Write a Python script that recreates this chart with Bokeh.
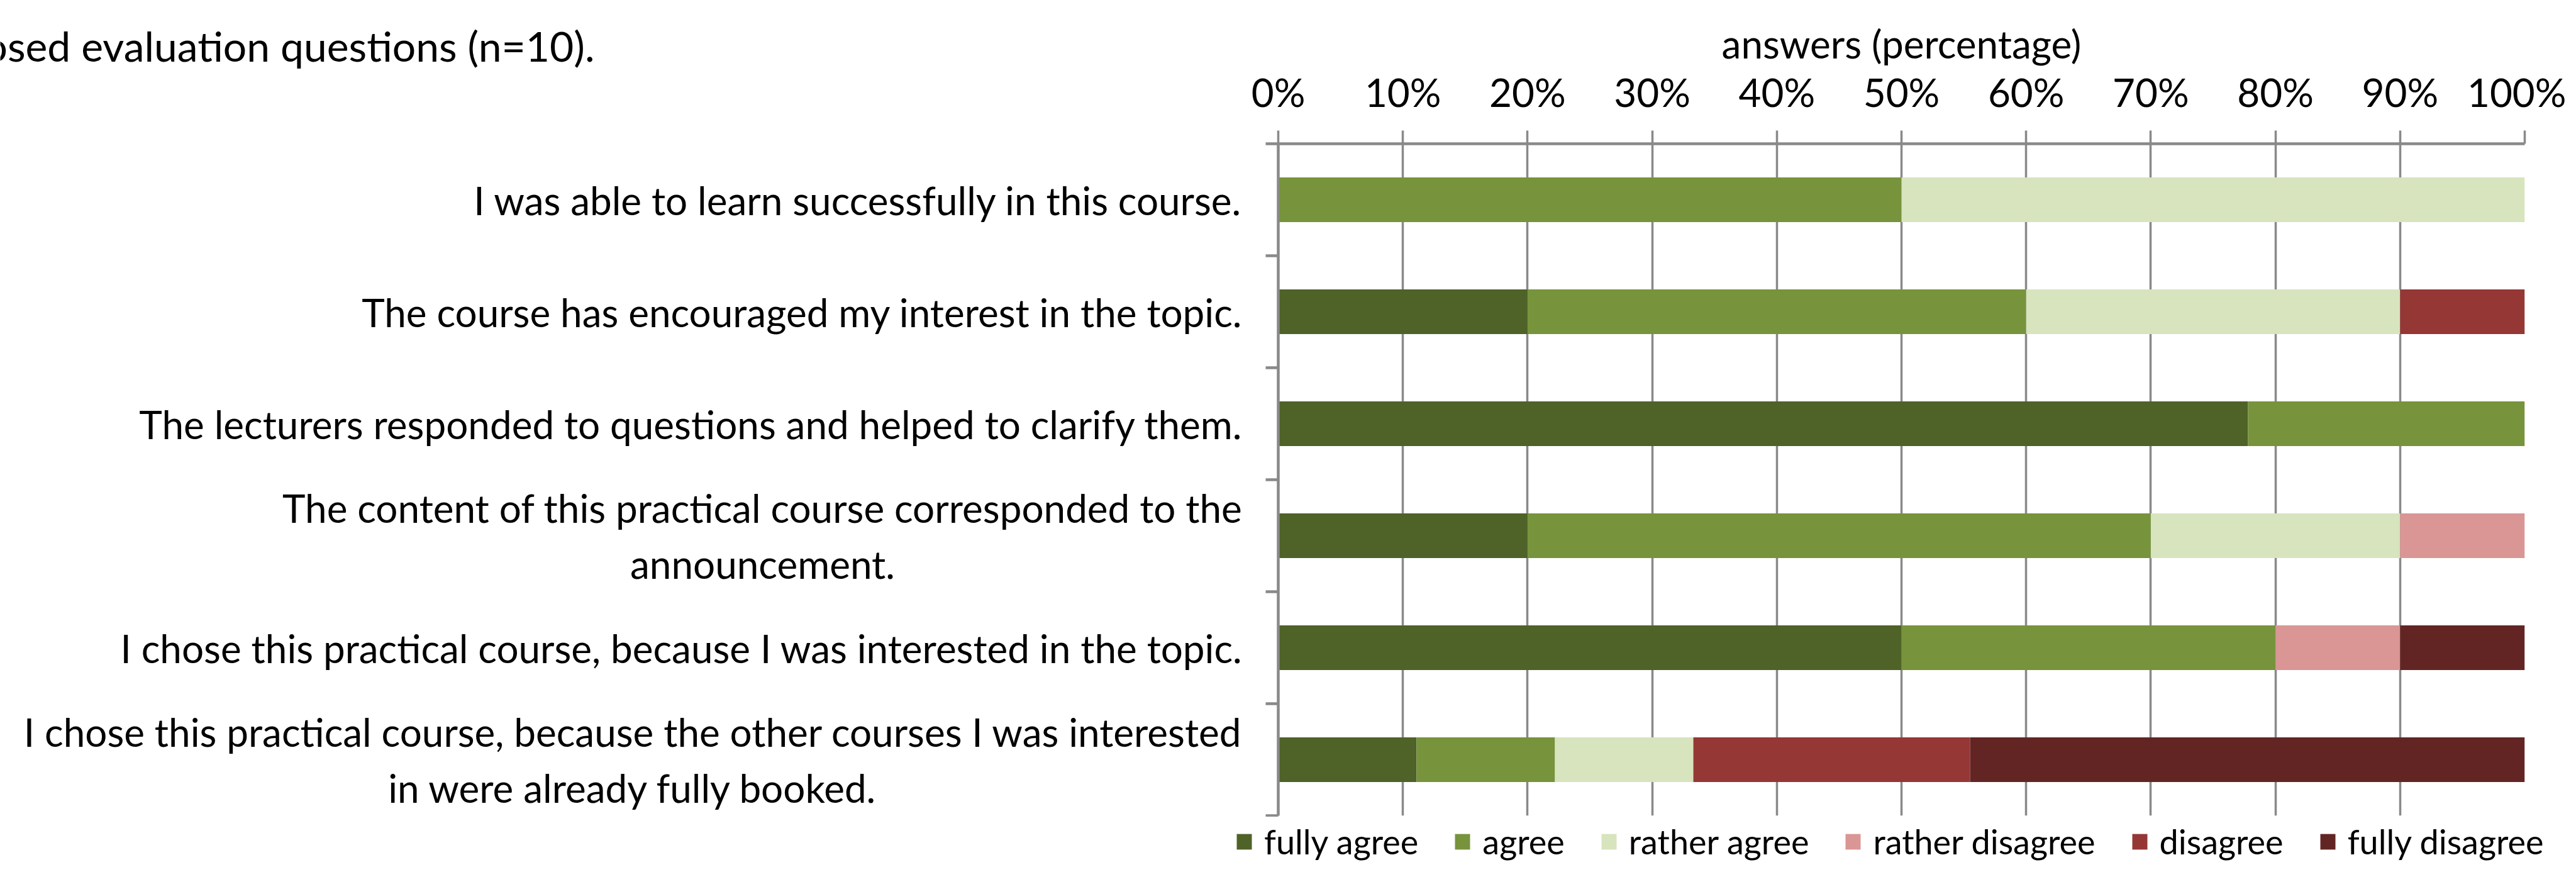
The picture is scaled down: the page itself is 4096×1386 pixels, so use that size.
from bokeh.plotting import figure
from bokeh.layouts import row, column
from bokeh.models import (ColumnDataSource, Range1d, FixedTicker, Label, Legend,
                          LegendItem, PrintfTickFormatter)
from bokeh.embed import file_html
from bokeh.resources import INLINE

# ---------------- data ----------------
questions = [
    "I was able to learn successfully in this course.",
    "The course has encouraged my interest in the topic.",
    "The lecturers responded to questions and helped to clarify them.",
    "The content of this practical course corresponded to the\nannouncement.",
    "I chose this practical course, because I was interested in the topic.",
    "I chose this practical course, because the other courses I was interested\nin were already fully booked.",
]
answers = ["fully agree", "agree", "rather agree", "rather disagree", "disagree", "fully disagree"]
fully_agree     = [0, 20, 77.8, 20, 50, 11.1]
agree           = [50, 40, 22.2, 50, 30, 11.1]
rather_agree    = [50, 30, 0, 20, 0, 11.1]
rather_disagree = [0, 0, 0, 10, 10, 0]
disagree        = [0, 10, 0, 0, 0, 22.2]
fully_disagree  = [0, 0, 0, 0, 10, 44.5]
x_ticks = [0, 10, 20, 30, 40, 50, 60, 70, 80, 90, 100]
x_title = "answers (percentage)"
caption = "closed evaluation questions (n=10)."
colors = ["#4F6228", "#77933C", "#D7E4BD", "#D99694", "#953735", "#632523"]

FONT = "Lato"
FS = "62px"
GRAY = "#898989"

W = 4080
HL = 72                          # legend strip height
H1 = 1370 - HL                   # chart row height
WL = 1978                        # width of the label strip on the left
FRAME_LEFT, FRAME_RIGHT = 2032, 66
FRAME_TOP, FRAME_BOTTOM = 228, 2

n = len(questions)
centers = [n - 0.5 - i for i in range(n)]
PXY = (H1 - FRAME_TOP - FRAME_BOTTOM) / n      # pixels per category row

keys = ["fully_agree", "agree", "rather_agree", "rather_disagree", "disagree", "fully_disagree"]
src = ColumnDataSource(dict(
    y=centers,
    fully_agree=fully_agree, agree=agree, rather_agree=rather_agree,
    rather_disagree=rather_disagree, disagree=disagree, fully_disagree=fully_disagree,
))

# ---------- left strip: caption fragment + question labels ----------
left = figure(width=WL, height=H1, x_range=Range1d(0, WL),
              y_range=Range1d(-FRAME_BOTTOM / PXY, n + FRAME_TOP / PXY),
              x_axis_type=None, y_axis_type=None, output_backend="svg",
              toolbar_location=None, min_border=0)
left.outline_line_color = None
left.frame_align = False
for c, q in zip(centers, questions):
    left.add_layout(Label(x=WL - 2.5, y=c, text=q, anchor="center_right",
                          text_align="center", text_baseline="middle",
                          text_font=FONT, text_font_size=FS, text_color="black",
                          text_line_height=1.2))
left.add_layout(Label(x=945, y=n + (FRAME_TOP - 72) / PXY, text=caption,
                      text_align="right", text_baseline="middle",
                      text_font=FONT, text_font_size="66px", text_color="black"))

# ---------- main chart ----------
p = figure(width=W - WL, height=H1, x_range=Range1d(0, 100), y_range=Range1d(0, n),
           x_axis_location="above", output_backend="svg", toolbar_location=None,
           min_border_left=FRAME_LEFT - WL, min_border_right=FRAME_RIGHT,
           min_border_top=FRAME_TOP, min_border_bottom=FRAME_BOTTOM)
p.outline_line_color = None
p.frame_align = False

rs = p.hbar_stack(keys, y="y", height=0.4, color=colors, line_color=None, source=src)

xa = p.xaxis[0]
xa.ticker = FixedTicker(ticks=x_ticks)
xa.formatter = PrintfTickFormatter(format="%d%%")
xa.axis_line_color = GRAY
xa.axis_line_width = 4.5
xa.major_tick_line_color = GRAY
xa.major_tick_line_width = 3.5
xa.major_tick_out = 21
xa.major_tick_in = 0
xa.minor_tick_line_color = None
xa.major_label_text_font = FONT
xa.major_label_text_font_size = FS
xa.major_label_text_color = "black"
xa.major_label_standoff = 25
xa.axis_label = x_title
xa.axis_label_text_font = FONT
xa.axis_label_text_font_size = FS
xa.axis_label_text_font_style = "normal"
xa.axis_label_text_color = "black"
xa.axis_label_standoff = 0

ya = p.yaxis[0]
ya.ticker = FixedTicker(ticks=[], minor_ticks=list(range(n + 1)))
ya.axis_line_color = GRAY
ya.axis_line_width = 4.5
ya.major_tick_line_color = None
ya.minor_tick_line_color = GRAY
ya.minor_tick_line_width = 4.5
ya.minor_tick_out = 20
ya.minor_tick_in = 0

p.xgrid.ticker = FixedTicker(ticks=x_ticks)
p.xgrid.grid_line_color = GRAY
p.xgrid.grid_line_width = 3.5
p.ygrid.visible = False

# ---------- legend strip ----------
leg = figure(width=W, height=HL, x_range=Range1d(0, 1), y_range=Range1d(0, 1),
             x_axis_type=None, y_axis_type=None, output_backend="svg",
             toolbar_location=None, min_border=0)
leg.outline_line_color = None
leg.frame_align = False
# zero-size swatch renderers, only used to give the legend its colours
swatches = [leg.hbar(y=[0], left=[0], right=[0], height=0, color=c, line_color=None)
            for c in colors]
legend = Legend(items=[LegendItem(label=a, renderers=[r]) for a, r in zip(answers, swatches)],
                orientation="horizontal", location=(1963, 0),
                label_text_font=FONT, label_text_font_size="54px", label_text_color="black",
                glyph_width=30, glyph_height=31, label_standoff=17, spacing=55,
                padding=0, margin=0, border_line_color=None, background_fill_alpha=0)
leg.add_layout(legend, "center")

layout = column(row(left, p, spacing=0), leg, spacing=0)
open("out.html", "w").write(file_html(layout, INLINE))
